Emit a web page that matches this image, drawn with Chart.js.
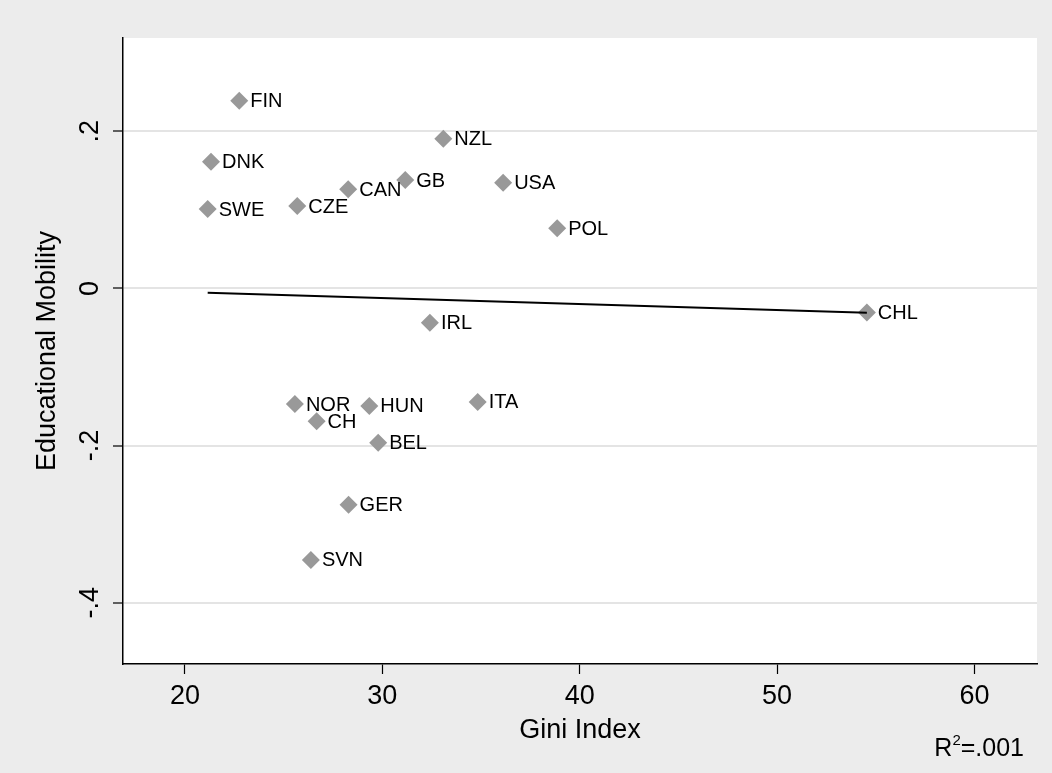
<!DOCTYPE html>
<html>
<head>
<meta charset="utf-8">
<script src="https://cdn.jsdelivr.net/npm/chart.js@4.4.1/dist/chart.umd.min.js"></script>
<style>
  html, body { margin: 0; padding: 0; background: #ececec; }
  #wrap { width: 1052px; height: 773px; }
</style>
</head>
<body>
<div id="wrap"><canvas id="c" width="1052" height="773"></canvas></div>
<script>
// ---- data ----
const countries = ['FIN','DNK','SWE','CZE','CAN','GB','NZL','USA','POL','CHL','IRL','NOR','HUN','ITA','CH','BEL','GER','SVN'];
const gini      = [22.75, 21.32, 21.15, 25.69, 28.27, 31.16, 33.09, 36.12, 38.86, 54.55, 32.41, 25.57, 29.34, 34.83, 26.67, 29.79, 28.29, 26.38];
const mobility  = [0.2388, 0.1612, 0.1010, 0.1048, 0.1261, 0.1379, 0.1905, 0.1345, 0.0765, -0.0307, -0.0436, -0.1471, -0.1496, -0.1445, -0.1691, -0.1963, -0.2752, -0.3455];
const fitX = [21.15, 54.55];
const fitY = [-0.0055, -0.0309];
const xTickValues = [20, 30, 40, 50, 60];
const xTickLabels = ['20', '30', '40', '50', '60'];
const yTickValues = [-0.4, -0.2, 0, 0.2];
const yTickLabels = ['-.4', '-.2', '0', '.2'];
const xTitle = 'Gini Index';
const yTitle = 'Educational Mobility';
const r2Text = '.001';

const FONT = "'Liberation Sans', Arial, Helvetica, sans-serif";

const bgPlugin = {
  id: 'bg',
  beforeDraw(chart) {
    const {ctx, chartArea: a} = chart;
    ctx.save();
    ctx.fillStyle = '#ececec';
    ctx.fillRect(0, 0, chart.width, chart.height);
    ctx.fillStyle = '#ffffff';
    ctx.fillRect(a.left, a.top, a.right - a.left, a.bottom - a.top);
    ctx.restore();
  }
};

const labelPlugin = {
  id: 'labels',
  afterDatasetsDraw(chart) {
    const {ctx} = chart;
    const meta = chart.getDatasetMeta(1);
    ctx.save();
    ctx.font = '20px ' + FONT;
    ctx.fillStyle = '#000';
    ctx.textAlign = 'left';
    ctx.textBaseline = 'middle';
    meta.data.forEach((pt, i) => {
      ctx.fillText(countries[i], pt.x + 11, pt.y + 1);
    });
    ctx.restore();
  },
  afterDraw(chart) {
    const {ctx} = chart;
    ctx.save();
    ctx.fillStyle = '#000';
    ctx.textBaseline = 'alphabetic';
    const base = 756;
    ctx.font = '25px ' + FONT;
    const wR = ctx.measureText('R').width;
    const wRest = ctx.measureText('=' + r2Text).width;
    ctx.font = '15px ' + FONT;
    const wSup = ctx.measureText('2').width;
    const right = 1024;
    let x = right - wRest - wSup - wR;
    ctx.font = '25px ' + FONT;
    ctx.textAlign = 'left';
    ctx.fillText('R', x, base);
    x += wR;
    ctx.font = '15px ' + FONT;
    ctx.fillText('2', x, base - 11);
    x += wSup;
    ctx.font = '25px ' + FONT;
    ctx.fillText('=' + r2Text, x, base);
    ctx.restore();
  }
};

new Chart(document.getElementById('c'), {
  type: 'scatter',
  data: {
    datasets: [
      {
        type: 'line',
        data: fitX.map((x, i) => ({x, y: fitY[i]})),
        borderColor: '#000000',
        borderWidth: 2,
        pointRadius: 0,
        fill: false,
        tension: 0
      },
      {
        data: gini.map((x, i) => ({x, y: mobility[i]})),
        pointStyle: 'rectRot',
        pointRadius: 9,
        pointHoverRadius: 9,
        backgroundColor: '#999999',
        borderColor: '#999999',
        borderWidth: 0
      }
    ]
  },
  options: {
    responsive: false,
    animation: false,
    events: [],
    layout: { padding: { left: 0, top: 38, right: 15, bottom: 0 } },
    plugins: { legend: { display: false }, tooltip: { enabled: false } },
    scales: {
      x: {
        type: 'linear',
        min: 16.86,
        max: 63.17,
        afterFit(s) { s.height = 773 - 664; },
        afterBuildTicks(s) { s.ticks = xTickValues.map(v => ({value: v})); },
        border: { display: true, color: '#000000', width: 1.5 },
        grid: { display: true, drawOnChartArea: false, drawTicks: true, tickLength: 10, tickColor: '#000000', tickWidth: 1.2 },
        ticks: {
          color: '#000000',
          font: { family: FONT, size: 27 },
          padding: 6,
          maxRotation: 0,
          callback: (v) => xTickLabels[xTickValues.indexOf(v)]
        },
        title: {
          display: true,
          text: xTitle,
          color: '#000000',
          font: { family: FONT, size: 27 },
          padding: { top: 0, bottom: 26 }
        }
      },
      y: {
        type: 'linear',
        min: -0.4779,
        max: 0.3186,
        afterFit(s) { s.width = 123; },
        afterBuildTicks(s) { s.ticks = yTickValues.map(v => ({value: v})); },
        border: { display: true, color: '#000000', width: 1.5 },
        grid: { display: true, drawOnChartArea: true, color: '#e4e4e4', lineWidth: 2, drawTicks: true, tickLength: 10, tickColor: '#000000', tickWidth: 1.2 },
        ticks: {
          color: '#000000',
          font: { family: FONT, size: 27 },
          padding: 7,
          minRotation: 90,
          maxRotation: 90,
          crossAlign: 'center',
          callback: (v) => yTickLabels[yTickValues.indexOf(v)]
        },
        title: {
          display: true,
          text: yTitle,
          color: '#000000',
          font: { family: FONT, size: 27 },
          padding: { top: 31, bottom: 0 }
        }
      }
    }
  },
  plugins: [bgPlugin, labelPlugin]
});
</script>
</body>
</html>
